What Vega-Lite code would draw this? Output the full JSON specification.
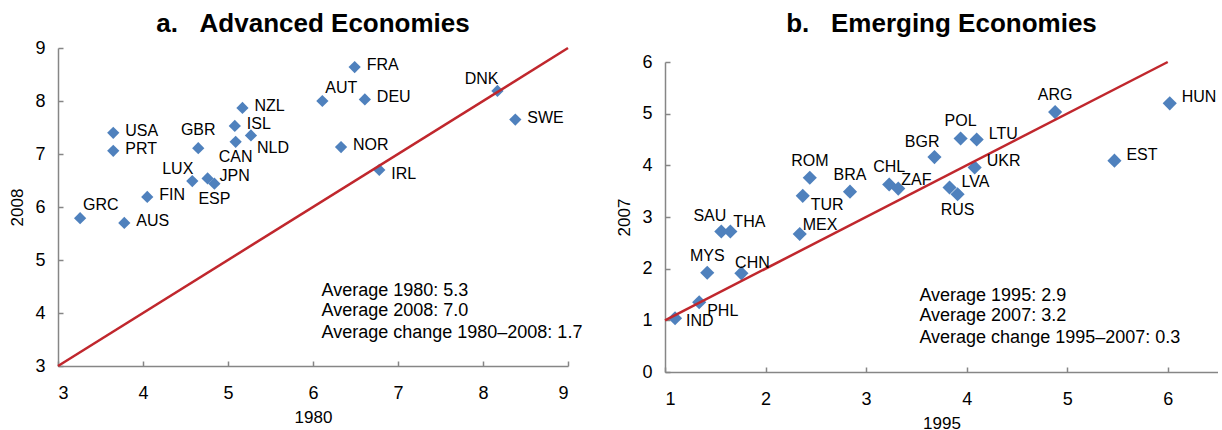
{
  "$schema": "https://vega.github.io/schema/vega-lite/v6.json",
  "padding": {"left": 8, "top": 11, "right": 0, "bottom": 0},
  "autosize": {"type": "pad"},
  "background": "white",
  "config": {
    "font": "Liberation Sans",
    "view": {"stroke": null},
    "axis": {
      "grid": false,
      "domainColor": "#868686",
      "domainWidth": 1.5,
      "tickColor": "#868686",
      "tickWidth": 1.5,
      "tickSize": -5,
      "labelFont": "Liberation Sans",
      "labelFontSize": 18,
      "labelColor": "#000000",
      "titleFont": "Liberation Sans",
      "titleFontSize": 17,
      "titleFontWeight": "normal",
      "titleColor": "#000000"
    },
    "axisX": {"labelPadding": 23, "titlePadding": 7},
    "axisY": {"labelPadding": 18, "titlePadding": 8},
    "title": {"font": "Liberation Sans", "fontSize": 26, "fontWeight": "bold", "color": "#000000", "anchor": "middle", "frame": "group"},
    "text": {"font": "Liberation Sans", "fontSize": 16, "color": "#000000", "baseline": "middle"}
  },
  "datasets": {
    "adv": [
      {"c": "USA", "x": 3.65, "y": 7.40, "p": "r"},
      {"c": "PRT", "x": 3.65, "y": 7.06, "p": "r"},
      {"c": "GBR", "x": 4.65, "y": 7.11, "p": "u"},
      {"c": "NZL", "x": 5.17, "y": 7.87, "p": "r"},
      {"c": "ISL", "x": 5.08, "y": 7.53, "p": "r"},
      {"c": "NLD", "x": 5.27, "y": 7.35, "p": "dr"},
      {"c": "CAN", "x": 5.09, "y": 7.23, "p": "d"},
      {"c": "LUX", "x": 4.58, "y": 6.49, "p": "ul"},
      {"c": "JPN", "x": 4.76, "y": 6.54, "p": "r"},
      {"c": "ESP", "x": 4.84, "y": 6.44, "p": "d"},
      {"c": "FIN", "x": 4.05, "y": 6.19, "p": "r"},
      {"c": "GRC", "x": 3.26, "y": 5.79, "p": "ur"},
      {"c": "AUS", "x": 3.78, "y": 5.70, "p": "r"},
      {"c": "FRA", "x": 6.49, "y": 8.64, "p": "r"},
      {"c": "AUT", "x": 6.11, "y": 8.00, "p": "ur"},
      {"c": "DEU", "x": 6.61, "y": 8.03, "p": "r"},
      {"c": "DNK", "x": 8.17, "y": 8.19, "p": "ul"},
      {"c": "SWE", "x": 8.38, "y": 7.65, "p": "r"},
      {"c": "NOR", "x": 6.33, "y": 7.13, "p": "r"},
      {"c": "IRL", "x": 6.78, "y": 6.70, "p": "rd"}
    ],
    "emg": [
      {"c": "IND", "x": 1.10, "y": 1.04, "p": "rd"},
      {"c": "PHL", "x": 1.34, "y": 1.35, "p": "dr"},
      {"c": "MYS", "x": 1.42, "y": 1.92, "p": "u"},
      {"c": "CHN", "x": 1.76, "y": 1.91, "p": "uc"},
      {"c": "SAU", "x": 1.56, "y": 2.72, "p": "ul"},
      {"c": "THA", "x": 1.65, "y": 2.72, "p": "ur"},
      {"c": "MEX", "x": 2.34, "y": 2.67, "p": "ur"},
      {"c": "TUR", "x": 2.37, "y": 3.41, "p": "dr"},
      {"c": "ROM", "x": 2.44, "y": 3.76, "p": "u"},
      {"c": "BRA", "x": 2.84, "y": 3.49, "p": "u"},
      {"c": "CHL", "x": 3.23, "y": 3.63, "p": "u"},
      {"c": "ZAF", "x": 3.32, "y": 3.55, "p": "ur"},
      {"c": "BGR", "x": 3.68, "y": 4.16, "p": "ul"},
      {"c": "POL", "x": 3.94, "y": 4.52, "p": "u"},
      {"c": "LTU", "x": 4.10, "y": 4.50, "p": "r"},
      {"c": "UKR", "x": 4.08, "y": 3.96, "p": "r"},
      {"c": "LVA", "x": 3.83, "y": 3.57, "p": "r"},
      {"c": "RUS", "x": 3.91, "y": 3.44, "p": "d"},
      {"c": "ARG", "x": 4.88, "y": 5.03, "p": "u"},
      {"c": "EST", "x": 5.47, "y": 4.09, "p": "r"},
      {"c": "HUN", "x": 6.02, "y": 5.20, "p": "r"}
    ]
  },
  "spacing": 32,
  "hconcat": [
    {
      "width": 510,
      "height": 318,
      "title": {"text": "a.\u00a0\u00a0\u00a0Advanced Economies", "offset": 2},
      "encoding": {
        "x": {"field": "x", "type": "quantitative", "scale": {"domain": [3, 9], "nice": false, "zero": false}, "axis": {"title": "1980", "values": [3, 4, 5, 6, 7, 8, 9]}},
        "y": {"field": "y", "type": "quantitative", "scale": {"domain": [3, 9], "nice": false, "zero": false}, "axis": {"title": "2008", "values": [3, 4, 5, 6, 7, 8, 9]}}
      },
      "layer": [
        {"data": {"name": "adv"}, "mark": {"type": "point", "shape": "diamond", "filled": true, "size": 150, "color": "#4F81BD", "opacity": 1}},
        {"data": {"values": [{"x": 3, "y": 3}, {"x": 9, "y": 9}]}, "mark": {"type": "line", "color": "#C0272D", "strokeWidth": 2.5}},
        {"data": {"name": "adv"}, "transform": [{"filter": "datum.p == 'r'"}], "mark": {"type": "text", "align": "left", "dx": 12, "dy": -2}, "encoding": {"text": {"field": "c"}}},
        {"data": {"name": "adv"}, "transform": [{"filter": "datum.p == 'rd'"}], "mark": {"type": "text", "align": "left", "dx": 12, "dy": 4}, "encoding": {"text": {"field": "c"}}},
        {"data": {"name": "adv"}, "transform": [{"filter": "datum.p == 'u'"}], "mark": {"type": "text", "align": "center", "dy": -18}, "encoding": {"text": {"field": "c"}}},
        {"data": {"name": "adv"}, "transform": [{"filter": "datum.p == 'd'"}], "mark": {"type": "text", "align": "center", "dy": 15}, "encoding": {"text": {"field": "c"}}},
        {"data": {"name": "adv"}, "transform": [{"filter": "datum.p == 'ur'"}], "mark": {"type": "text", "align": "left", "dx": 3, "dy": -13}, "encoding": {"text": {"field": "c"}}},
        {"data": {"name": "adv"}, "transform": [{"filter": "datum.p == 'ul'"}], "mark": {"type": "text", "align": "right", "dx": 1, "dy": -12}, "encoding": {"text": {"field": "c"}}},
        {"data": {"name": "adv"}, "transform": [{"filter": "datum.p == 'dr'"}], "mark": {"type": "text", "align": "left", "dx": 6, "dy": 13}, "encoding": {"text": {"field": "c"}}},
        {"data": {"values": [
            {"t": "Average 1980: 5.3", "x": 6.10, "y": 4.42},
            {"t": "Average 2008: 7.0", "x": 6.10, "y": 4.04},
            {"t": "Average change 1980\u20132008: 1.7", "x": 6.10, "y": 3.63}
          ]},
          "mark": {"type": "text", "align": "left", "fontSize": 18},
          "encoding": {"text": {"field": "t"}}}
      ]
    },
    {
      "width": 553,
      "height": 324,
      "title": {"text": "b.\u00a0\u00a0\u00a0Emerging Economies", "offset": 11},
      "encoding": {
        "x": {"field": "x", "type": "quantitative", "scale": {"domain": [1, 6.5], "nice": false, "zero": false}, "axis": {"title": "1995", "values": [1, 2, 3, 4, 5, 6]}},
        "y": {"field": "y", "type": "quantitative", "scale": {"domain": [0, 6], "nice": false, "zero": false, "range": [324, 14]}, "axis": {"title": "2007", "values": [0, 1, 2, 3, 4, 5, 6]}}
      },
      "layer": [
        {"data": {"name": "emg"}, "mark": {"type": "point", "shape": "diamond", "filled": true, "size": 200, "color": "#4F81BD", "opacity": 1}},
        {"data": {"values": [{"x": 1, "y": 1}, {"x": 6, "y": 6}]}, "mark": {"type": "line", "color": "#C0272D", "strokeWidth": 2.5}},
        {"data": {"name": "emg"}, "transform": [{"filter": "datum.p == 'r'"}], "mark": {"type": "text", "align": "left", "dx": 12, "dy": -6}, "encoding": {"text": {"field": "c"}}},
        {"data": {"name": "emg"}, "transform": [{"filter": "datum.p == 'rd'"}], "mark": {"type": "text", "align": "left", "dx": 11, "dy": 3}, "encoding": {"text": {"field": "c"}}},
        {"data": {"name": "emg"}, "transform": [{"filter": "datum.p == 'u'"}], "mark": {"type": "text", "align": "center", "dy": -17}, "encoding": {"text": {"field": "c"}}},
        {"data": {"name": "emg"}, "transform": [{"filter": "datum.p == 'uc'"}], "mark": {"type": "text", "align": "center", "dx": 11, "dy": -10}, "encoding": {"text": {"field": "c"}}},
        {"data": {"name": "emg"}, "transform": [{"filter": "datum.p == 'd'"}], "mark": {"type": "text", "align": "center", "dy": 16}, "encoding": {"text": {"field": "c"}}},
        {"data": {"name": "emg"}, "transform": [{"filter": "datum.p == 'ur'"}], "mark": {"type": "text", "align": "left", "dx": 3, "dy": -9}, "encoding": {"text": {"field": "c"}}},
        {"data": {"name": "emg"}, "transform": [{"filter": "datum.p == 'ul'"}], "mark": {"type": "text", "align": "right", "dx": 5, "dy": -15}, "encoding": {"text": {"field": "c"}}},
        {"data": {"name": "emg"}, "transform": [{"filter": "datum.p == 'dr'"}], "mark": {"type": "text", "align": "left", "dx": 8, "dy": 9}, "encoding": {"text": {"field": "c"}}},
        {"data": {"values": [
            {"t": "Average 1995: 2.9", "x": 3.53, "y": 1.47},
            {"t": "Average 2007: 3.2", "x": 3.53, "y": 1.08},
            {"t": "Average change 1995\u20132007: 0.3", "x": 3.53, "y": 0.66}
          ]},
          "mark": {"type": "text", "align": "left", "fontSize": 18},
          "encoding": {"text": {"field": "t"}}}
      ]
    }
  ]
}
